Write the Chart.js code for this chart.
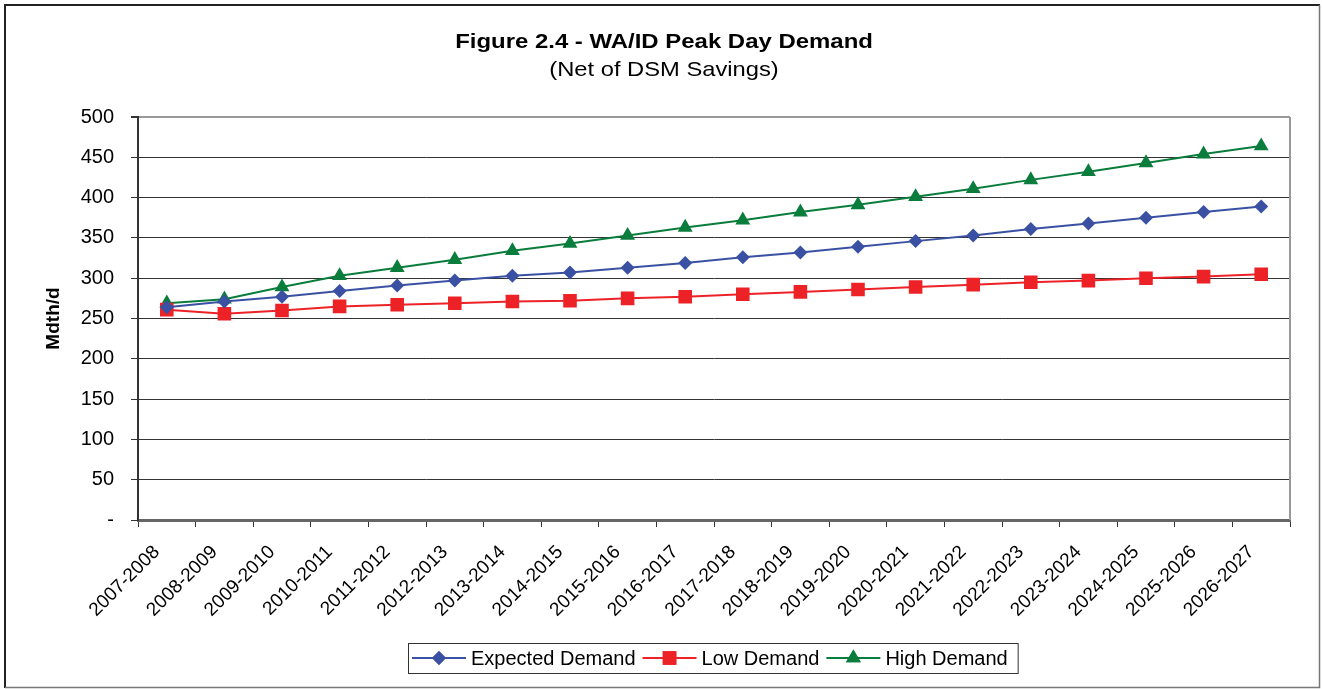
<!DOCTYPE html>
<html>
<head>
<meta charset="utf-8">
<title>Figure 2.4 - WA/ID Peak Day Demand</title>
<script src="https://cdn.jsdelivr.net/npm/chart.js@4.4.1/dist/chart.umd.min.js"></script>
<style>
  html, body { margin: 0; padding: 0; background: #fff; }
  #wrap { width: 1323px; height: 689px; }
</style>
</head>
<body>
<div id="wrap"><canvas id="chart" width="1323" height="689"></canvas></div>
<script>
// -------------------------------------------------------
// DATA
const seasons = [
  "2007-2008", "2008-2009", "2009-2010", "2010-2011", "2011-2012",
  "2012-2013", "2013-2014", "2014-2015", "2015-2016", "2016-2017",
  "2017-2018", "2018-2019", "2019-2020", "2020-2021", "2021-2022",
  "2022-2023", "2023-2024", "2024-2025", "2025-2026", "2026-2027"
];
const expectedDemand = [264, 271, 277, 284, 291, 297, 303, 307, 313, 319, 326, 332, 339, 346, 353, 361, 368, 375, 382, 389];
const lowDemand      = [261, 256, 260, 265, 267, 269, 271, 272, 275, 277, 280, 283, 286, 289, 292, 295, 297, 300, 302, 305];
const highDemand     = [269, 274, 289, 303, 313, 323, 334, 343, 353, 363, 372, 382, 391, 401, 411, 422, 432, 443, 454, 464];

const seriesNames = ["Expected Demand", "Low Demand", "High Demand"];
const yMin = 0, yMax = 500, yStep = 50;

const chartTitle = "Figure 2.4 - WA/ID Peak Day Demand";
const chartSubtitle = "(Net of DSM Savings)";
const yAxisTitle = "Mdth/d";

// -------------------------------------------------------
// STYLES
const BLUE = "#3a51a3";
const RED = "#ec2227";
const GREEN = "#0a7d3c";
const FONT = "Arial, 'Liberation Sans', Helvetica, sans-serif";

const series = [
  { data: expectedDemand, color: BLUE, style: "rectRot", radius: 7 },
  { data: lowDemand, color: RED, style: "rect", radius: 9.6 },
  { data: highDemand, color: GREEN, style: "triangle", radius: 8.6 },
];

// -------------------------------------------------------
// DECORATIONS: frame, title, plot border, legend
const decorations = {
  id: "decorations",
  afterDraw(chart) {
    const ctx = chart.ctx;
    const area = chart.chartArea;
    ctx.save();

    // outer frame
    ctx.strokeStyle = "#222";
    ctx.lineWidth = 2;
    ctx.beginPath();
    ctx.moveTo(5, 688); ctx.lineTo(5, 5); ctx.lineTo(1320, 5);
    ctx.stroke();
    ctx.strokeStyle = "#777";
    ctx.lineWidth = 1.5;
    ctx.beginPath();
    ctx.moveTo(1319.5, 5); ctx.lineTo(1319.5, 687.5); ctx.lineTo(5, 687.5);
    ctx.stroke();

    // right edge of the plot area
    ctx.strokeStyle = "#999";
    ctx.lineWidth = 2;
    ctx.beginPath();
    ctx.moveTo(area.right, area.top);
    ctx.lineTo(area.right, area.bottom);
    ctx.stroke();

    // title + subtitle (slightly wide face in the original)
    ctx.fillStyle = "#000";
    ctx.textAlign = "center";
    ctx.textBaseline = "alphabetic";
    ctx.save();
    ctx.translate(664, 48);
    ctx.scale(1.14, 1);
    ctx.font = "bold 21px " + FONT;
    ctx.fillText(chartTitle, 0, 0);
    ctx.restore();
    ctx.save();
    ctx.translate(664, 76);
    ctx.scale(1.13, 1);
    ctx.font = "21px " + FONT;
    ctx.fillText(chartSubtitle, 0, 0);
    ctx.restore();

    // legend
    ctx.font = "20px " + FONT;
    const lineLen = 54, gapAfterLine = 5, gapAfterText = 7;
    const widths = seriesNames.map((n) => ctx.measureText(n).width);
    let total = 0;
    widths.forEach((w, i) => {
      total += lineLen + gapAfterLine + w + (i < widths.length - 1 ? gapAfterText : 0);
    });
    const boxL = 408, boxT = 643, boxH = 30;
    const boxW = total + 14;
    ctx.fillStyle = "#fff";
    ctx.fillRect(boxL, boxT, boxW, boxH);
    ctx.strokeStyle = "#333";
    ctx.lineWidth = 1;
    ctx.strokeRect(boxL + 0.5, boxT + 0.5, boxW, boxH);

    let x = boxL + 4;
    const cy = boxT + boxH / 2;
    series.forEach((s, i) => {
      ctx.strokeStyle = s.color;
      ctx.lineWidth = 2;
      ctx.beginPath();
      ctx.moveTo(x, cy);
      ctx.lineTo(x + lineLen, cy);
      ctx.stroke();
      ctx.fillStyle = s.color;
      Chart.helpers.drawPoint(ctx, { pointStyle: s.style, radius: s.radius, rotation: 0, borderWidth: 0 }, x + lineLen / 2, cy);
      ctx.fill();
      x += lineLen + gapAfterLine;
      ctx.fillStyle = "#000";
      ctx.textAlign = "left";
      ctx.textBaseline = "middle";
      ctx.fillText(seriesNames[i], x, cy + 1);
      x += widths[i] + gapAfterText;
    });

    ctx.restore();
  },
};

// -------------------------------------------------------
// CHART
const ctx = document.getElementById("chart").getContext("2d");
new Chart(ctx, {
  type: "line",
  data: {
    labels: seasons,
    datasets: series.map((s, i) => ({
      label: seriesNames[i],
      data: s.data,
      borderColor: s.color,
      backgroundColor: s.color,
      borderWidth: 2,
      pointStyle: s.style,
      pointRadius: s.radius,
      pointHoverRadius: s.radius,
      pointBorderWidth: 0,
      pointBackgroundColor: s.color,
      tension: 0,
      fill: false,
    })),
  },
  options: {
    responsive: false,
    devicePixelRatio: 1,
    animation: false,
    layout: { padding: { left: 40, right: 33, top: 117, bottom: 69 } },
    plugins: {
      legend: { display: false },
      title: { display: false },
      tooltip: { enabled: false },
    },
    scales: {
      x: {
        offset: true,
        afterFit(scale) { scale.height = 100; },
        grid: {
          offset: true,
          drawOnChartArea: false,
          drawTicks: true,
          tickLength: 7,
          tickColor: "#333",
        },
        border: { color: "#666", width: 3 },
        ticks: {
          autoSkip: false,
          minRotation: 45,
          maxRotation: 45,
          padding: 14,
          labelOffset: -10,
          color: "#000",
          font: { family: FONT, size: 19 },
        },
      },
      y: {
        min: yMin,
        max: yMax,
        afterFit(scale) { scale.width = 98; },
        title: {
          display: true,
          text: yAxisTitle,
          color: "#000",
          font: { family: FONT, size: 19, weight: "bold" },
          padding: { top: 2, bottom: 0 },
        },
        grid: {
          color: (c) => (c.tick && c.tick.value === yMax ? "#999" : "#333"),
          lineWidth: (c) => (c.tick && c.tick.value === yMax ? 2 : 1),
          tickLength: 7,
          tickColor: "#333",
        },
        border: { color: "#333", width: 2 },
        ticks: {
          stepSize: yStep,
          padding: 17,
          color: "#000",
          font: { family: FONT, size: 20 },
          callback: (v) => (v === 0 ? "-" : v),
        },
      },
    },
  },
  plugins: [decorations],
});
</script>
</body>
</html>
